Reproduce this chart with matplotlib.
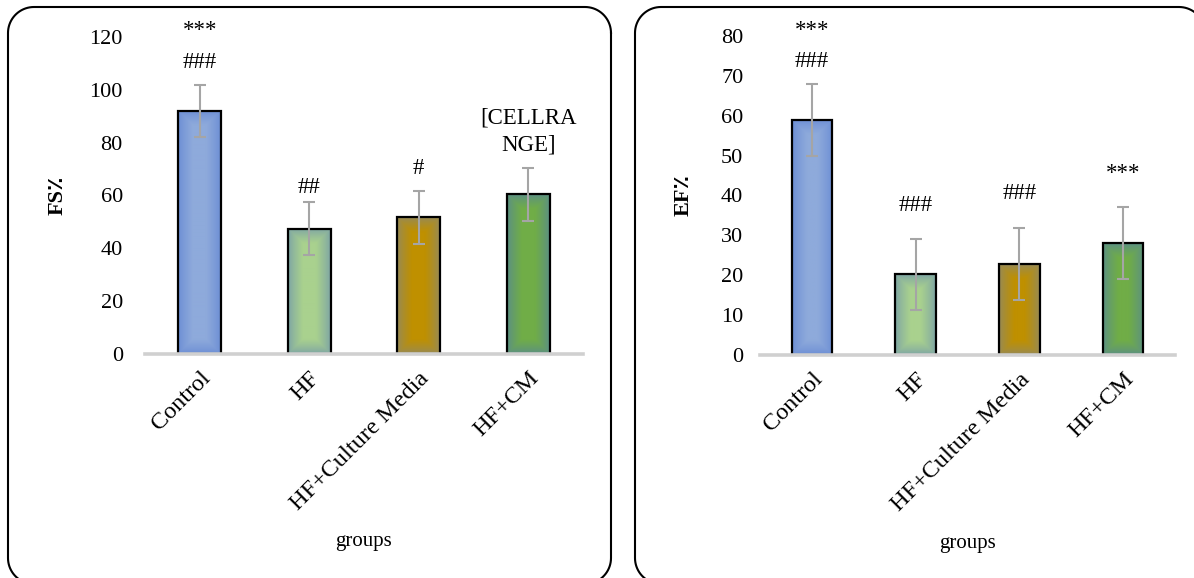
import matplotlib
matplotlib.use("Agg")
import matplotlib.pyplot as plt
import numpy as np
from matplotlib.patches import Rectangle
from matplotlib.lines import Line2D
from matplotlib.colors import to_rgb
from matplotlib.transforms import IdentityTransform

# data
groups = ["Control", "HF", "HF+Culture Media", "HF+CM"]
fs_values = [92, 47.5, 51.7, 60.5]
fs_err = [10, 10, 10, 10]
ef_values = [59, 20.2, 22.8, 28]
ef_err = [9, 9, 9, 9]

# annotations: (group index, y value, text)
fs_notes = [(0, 122.6, "***"), (0, 110.5, "###"), (1, 63.2, "##"),
            (2, 70.4, "#"), (3, 89.3, "[CELLRA"), (3, 79.1, "NGE]")]
ef_notes = [(0, 81.5, "***"), (0, 73.7, "###"), (1, 37.6, "###"),
            (2, 40.6, "###"), (3, 45.6, "***")]

center_cols = ["#8EAADB", "#A9D18E", "#BF9000", "#70AD47"]
edge_cols = ["#6A8CD4", "#7BA2A6", "#948A5C", "#5A8E88"]

plt.rcParams["font.family"] = ["Liberation Serif", "DejaVu Sans"]

W, H = 1194, 578
fig = plt.figure(figsize=(W / 100, H / 100), dpi=100)


def rounded_frame(x0, x1, y0, y1, r):
    # polyline of a rounded rectangle in pixel coords (origin bottom-left)
    t = np.linspace(0, np.pi / 2, 20)
    xs, ys = [], []
    for cx, cy, a0 in [(x1 - r, y1 - r, 0), (x0 + r, y1 - r, np.pi / 2),
                       (x0 + r, y0 + r, np.pi), (x1 - r, y0 + r, 1.5 * np.pi)]:
        xs += list(cx + r * np.cos(a0 + t))
        ys += list(cy + r * np.sin(a0 + t))
    xs.append(xs[0])
    ys.append(ys[0])
    fig.lines.append(Line2D(xs, ys, transform=IdentityTransform(),
                            color="black", lw=1.5))


rounded_frame(8, 611, -6, H - 7, 26)
rounded_frame(635, 1205, -6, H - 7, 26)


def gradient_bar(ax, x, h, width, c_in, c_out):
    x0, x1 = x - width / 2, x + width / 2
    p0 = ax.transData.transform((x0, 0))
    p1 = ax.transData.transform((x1, h))
    wpx = max(int(round(p1[0] - p0[0])), 2)
    hpx = max(int(round(p1[1] - p0[1])), 2)
    xx = np.arange(wpx) + 0.5
    yy = np.arange(hpx) + 0.5
    dx = np.minimum(xx, wpx - xx)[None, :]
    dy = np.minimum(yy, hpx - yy)[:, None]
    d = np.minimum(dx, dy)
    f = np.clip(d / 15.0, 0, 1) ** 0.8
    ci = np.array(to_rgb(c_in))
    co = np.array(to_rgb(c_out))
    img = co[None, None, :] + (ci - co)[None, None, :] * f[:, :, None]
    ax.imshow(img, extent=[x0, x1, 0, h], aspect="auto", zorder=2,
              interpolation="bilinear", origin="lower")
    ax.add_patch(Rectangle((x0, 0), width, h, fc="none", ec="black",
                           lw=1.6, zorder=3))


def draw_panel(rect, values, errs, notes, ymax, ystep, ylabel, tickpad, ylab_x):
    ax = fig.add_axes(rect)
    ax.set_xlim(-0.5, 3.5)
    ax.set_ylim(0, ymax)
    xs = np.arange(len(groups))
    for i, v in enumerate(values):
        gradient_bar(ax, xs[i], v, 0.39, center_cols[i], edge_cols[i])
    ax.errorbar(xs, values, yerr=errs, fmt="none", ecolor="#A5A5A5",
                elinewidth=1.5, capsize=4, capthick=1.5, zorder=4)
    for gi, yv, txt in notes:
        ax.text(xs[gi], yv, txt, ha="center", va="center", fontsize=16.5,
                zorder=5, clip_on=False)
    for s in ["top", "right", "left"]:
        ax.spines[s].set_visible(False)
    ax.spines["bottom"].set_color("#D0D0D0")
    ax.spines["bottom"].set_linewidth(2.6)
    ax.spines["bottom"].set_zorder(6)
    ax.set_yticks(np.arange(0, ymax + 1, ystep))
    ax.tick_params(axis="y", length=0, labelsize=16, pad=tickpad)
    ax.tick_params(axis="x", length=0, labelsize=17.5, pad=10)
    ax.set_xticks(xs)
    ax.set_xticklabels(groups, rotation=45, ha="right", va="top",
                       rotation_mode="anchor")
    ax.set_xlabel("groups", fontsize=15)
    ax.xaxis.set_label_coords(0.5, -0.56)
    ax.set_ylabel(ylabel, fontsize=16, fontweight="bold")
    ax.yaxis.set_label_coords(ylab_x, 0.5)
    ax.patch.set_alpha(0)
    return ax


draw_panel([145 / W, (H - 354) / H, 438 / W, 317 / H], fs_values, fs_err,
           fs_notes, 120, 20, "FS٪", 16, -0.176)
draw_panel([760 / W, (H - 355) / H, 415 / W, 319 / H], ef_values, ef_err,
           ef_notes, 80, 10, "EF٪", 12, -0.16)

fig.savefig("out.png", dpi=100)
